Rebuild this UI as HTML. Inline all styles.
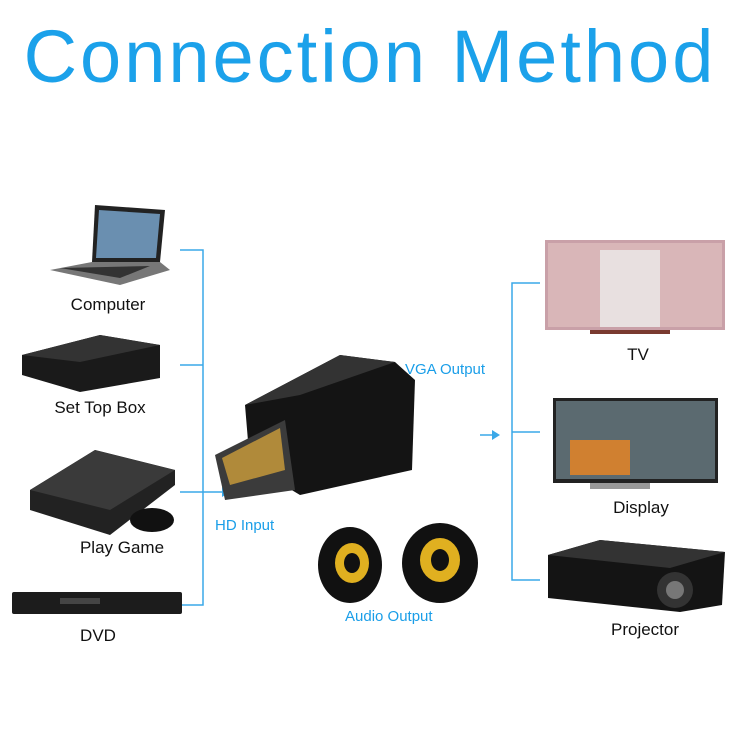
<!DOCTYPE html>
<html><head><meta charset="utf-8"><style>
html,body{margin:0;padding:0;background:#fff;}
body{width:740px;height:740px;position:relative;overflow:hidden;font-family:"Liberation Sans",sans-serif;}
.t{position:absolute;font-size:17px;color:#111;white-space:nowrap;transform:translateX(-50%);}
.b{position:absolute;font-size:15px;color:#1a9ee8;white-space:nowrap;}
h1{position:absolute;left:0;width:740px;top:14px;margin:0;text-align:center;font-weight:normal;font-size:74px;letter-spacing:3px;color:#1ba1ea;}
</style></head><body>
<h1>Connection Method</h1>
<svg width="740" height="740" style="position:absolute;left:0;top:0">
<g stroke="#3aa8e8" stroke-width="1.5" fill="none">
<path d="M180 250H203V605H180M180 365H203M180 492H228M180 605H203"/>
<path d="M540 283H512V580H540M512 432H540M480 435H494"/>
</g>
<polygon points="230,492 222,487 222,497" fill="#3aa8e8"/>
<polygon points="500,435 492,430 492,440" fill="#3aa8e8"/>
<polygon points="95,205 165,210 160,262 92,262" fill="#222"/>
<polygon points="99,210 160,214 156,258 96,258" fill="#6a8fb0"/>
<polygon points="92,262 160,262 170,270 120,285 50,270" fill="#777"/>
<polygon points="60,268 150,266 120,278" fill="#333"/>
<polygon points="22,355 100,335 160,345 160,378 80,392 22,375" fill="#1a1a1a"/>
<polygon points="22,355 100,335 160,345 80,362" fill="#333"/>
<polygon points="30,490 95,450 175,470 175,485 110,535 30,510" fill="#222"/>
<polygon points="30,490 95,450 175,470 110,510" fill="#3a3a3a"/>
<ellipse cx="152" cy="520" rx="22" ry="12" fill="#111"/>
<rect x="12" y="592" width="170" height="22" rx="2" fill="#1c1c1c"/>
<rect x="60" y="598" width="40" height="6" fill="#444"/>
<polygon points="245,405 340,355 395,362 415,380 412,470 300,495 250,465" fill="#141414"/>
<polygon points="245,405 340,355 395,362 300,395" fill="#333"/>
<polygon points="215,455 285,420 295,490 225,500" fill="#3b3b3b"/>
<polygon points="222,458 280,428 285,470 230,485" fill="#b08a3a"/>
<ellipse cx="350" cy="565" rx="32" ry="38" fill="#111"/>
<ellipse cx="352" cy="563" rx="17" ry="20" fill="#e0b020"/>
<ellipse cx="352" cy="563" rx="8" ry="10" fill="#111"/>
<ellipse cx="440" cy="563" rx="38" ry="40" fill="#111"/>
<ellipse cx="440" cy="560" rx="20" ry="22" fill="#e0b020"/>
<ellipse cx="440" cy="560" rx="9" ry="11" fill="#111"/>
<rect x="545" y="240" width="180" height="90" fill="#c9a0a8"/>
<rect x="548" y="243" width="174" height="84" fill="#d9b6b8"/>
<rect x="600" y="250" width="60" height="77" fill="#e8e0e0"/>
<rect x="590" y="330" width="80" height="4" fill="#7a3a30"/>
<rect x="553" y="398" width="165" height="85" fill="#222"/>
<rect x="556" y="401" width="159" height="78" fill="#5b6a70"/>
<rect x="570" y="440" width="60" height="35" fill="#d08030"/>
<rect x="590" y="483" width="60" height="6" fill="#999"/>
<polygon points="548,555 600,540 725,552 722,605 680,612 548,598" fill="#141414"/>
<polygon points="548,555 600,540 725,552 670,568" fill="#333"/>
<circle cx="675" cy="590" r="18" fill="#333"/><circle cx="675" cy="590" r="9" fill="#777"/>
</svg>
<div class="t" style="left:108px;top:295px">Computer</div>
<div class="t" style="left:100px;top:398px">Set Top Box</div>
<div class="t" style="left:122px;top:538px">Play Game</div>
<div class="t" style="left:98px;top:626px">DVD</div>
<div class="t" style="left:638px;top:345px">TV</div>
<div class="t" style="left:641px;top:498px">Display</div>
<div class="t" style="left:645px;top:620px">Projector</div>
<div class="b" style="left:215px;top:517px">HD Input</div>
<div class="b" style="left:405px;top:361px">VGA Output</div>
<div class="b" style="left:345px;top:608px">Audio Output</div>
</body></html>
